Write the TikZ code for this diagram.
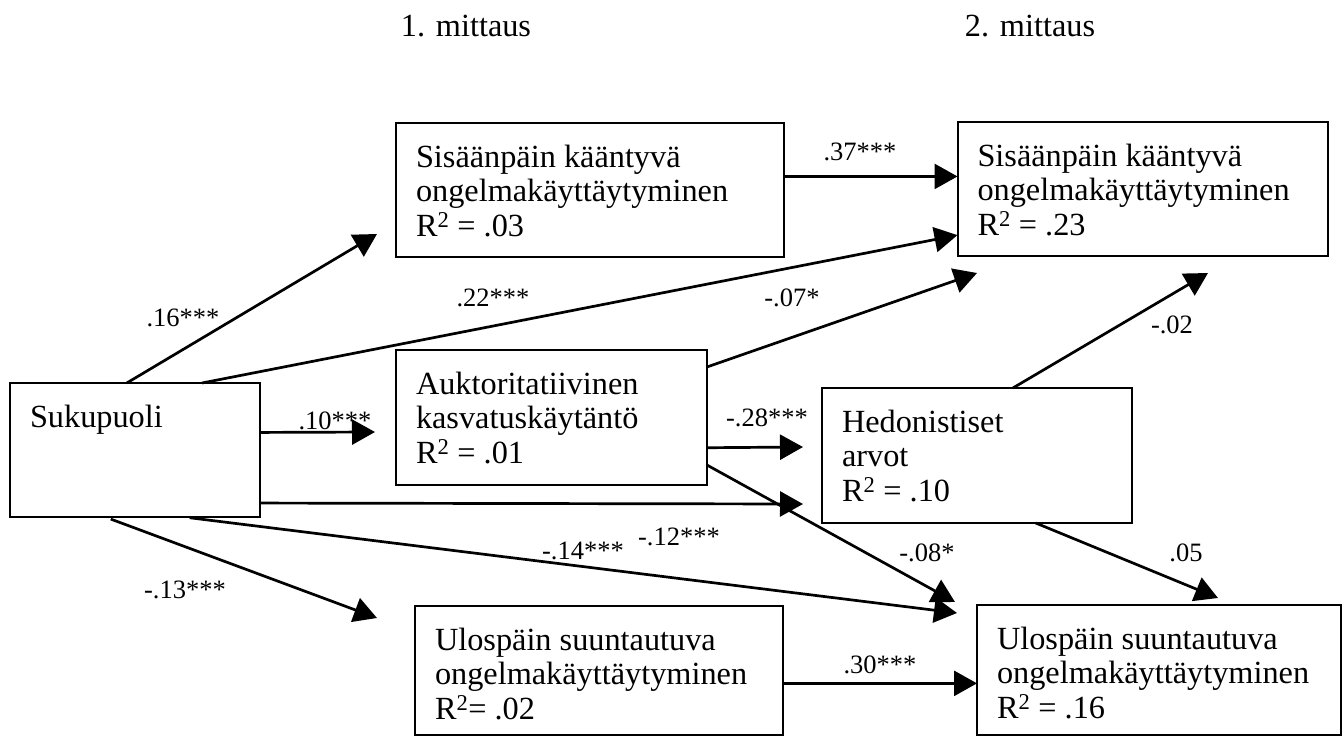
\documentclass[tikz,border=0pt]{standalone}
\usepackage{fontspec}
\setmainfont{Liberation Serif}
\usetikzlibrary{arrows.meta}

\tikzset{every picture/.style={line width=2pt}}
\tikzset{
	varbox/.style={draw, line width=2pt, anchor=north west, outer sep=0pt, inner xsep=20pt, inner ysep=20pt, font=\fontsize{32.3}{34.5}\selectfont},
	heading/.style={font=\fontsize{32.3}{34.5}\selectfont},
	coef/.style={font=\fontsize{26.5}{28}\selectfont, inner sep=1pt},
	effect/.style={line width=2.7pt, -{Triangle[length=23pt,width=25pt]}}
}
\newcommand{\boxtxt}[3]{\parbox[t][#2][t]{#1}{\raggedright\strut #3}}

\begin{document}
\begin{tikzpicture}[x=1pt,y=1pt,yscale=-1]
		\useasboundingbox (0,0) rectangle (1344,738);
		
		% Text Node
		\node[heading] (mitt1) at (466,26) {1. mittaus};
		% Text Node
		\node[heading] (mitt2) at (1030,26) {2. mittaus};
		
		%Shape: Rectangle
		\node[varbox] (suku) at (10,383) {\boxtxt{210pt}{94pt}{Sukupuoli}};
		\node[varbox] (sis1) at (396,123) {\boxtxt{348pt}{94pt}{Sisäänpäin kääntyvä\\ongelmakäyttäytyminen\\R\textsuperscript{2} = .03}};
		\node[varbox] (sis2) at (957.5,122) {\boxtxt{330pt}{94pt}{Sisäänpäin kääntyvä\\ongelmakäyttäytyminen\\R\textsuperscript{2} = .23}};
		\node[varbox] (auk) at (396,350) {\boxtxt{271pt}{95pt}{Auktoritatiivinen\\kasvatuskäytäntö\\R\textsuperscript{2} = .01}};
		\node[varbox] (hed) at (822,388) {\boxtxt{270pt}{95pt}{Hedonistiset\\arvot\\R\textsuperscript{2} = .10}};
		\node[varbox] (ulo1) at (415,606) {\boxtxt{328pt}{89pt}{Ulospäin suuntautuva\\ongelmakäyttäytyminen\\R\textsuperscript{2}= .02}};
		\node[varbox] (ulo2) at (977,605) {\boxtxt{324pt}{90pt}{Ulospäin suuntautuva\\ongelmakäyttäytyminen\\R\textsuperscript{2} = .16}};
		
		% free arrow ends
		\coordinate (t16) at (377,234);
		\coordinate (t10) at (375,432);
		\coordinate (t07) at (977,273);
		\coordinate (t28) at (803,447);
		\coordinate (t12) at (803,504);
		\coordinate (t02) at (1208,273);
		\coordinate (t08) at (955,602);
		\coordinate (t14) at (957,613);
		\coordinate (t05) at (1218,598);
		\coordinate (t13) at (377,618);
		
		%Straight Lines
		\draw[effect] (suku.97) -- (t16);
		\draw[effect] (suku.45) -- (sis2.194);
		\draw[effect] (sis1.4) -- (sis1.4 -| sis2.west);
		\draw[effect] (suku.8) -- (t10);
		\draw[effect] (auk.18) -- (t07);
		\draw[effect] (auk.-11) -- (t28);
		\draw[effect] (suku.-23) -- (t12);
		\draw[effect] (auk.-17) -- (t08);
		\draw[effect] (hed.62) -- (t02);
		\draw[effect] (hed.-49) -- (t05);
		\draw[effect, shorten <=6pt] (suku.-54) -- (t14);
		\draw[effect, shorten <=6pt] (suku.-114) -- (t13);
		\draw[effect] (ulo1.-4) -- (ulo1.-4 -| ulo2.west);
		
		% Text Node
		\node[coef] (c16) at (183,318) {.16***};
		\node[coef] (c22) at (493,298) {.22***};
		\node[coef] (c37) at (860,152) {.37***};
		\node[coef] (c10) at (335,421) {.10***};
		\node[coef] (c07) at (792,298) {-.07*};
		\node[coef] (c28) at (767,418) {-.28***};
		\node[coef] (c12) at (679,537) {-.12***};
		\node[coef] (c14) at (583,551) {-.14***};
		\node[coef] (c08) at (927,553) {-.08*};
		\node[coef] (c02) at (1172,325) {-.02};
		\node[coef] (c05) at (1186,553) {.05};
		\node[coef] (c13) at (185,590) {-.13***};
		\node[coef] (c30) at (880,665) {.30***};
		\end{tikzpicture}
\end{document}
